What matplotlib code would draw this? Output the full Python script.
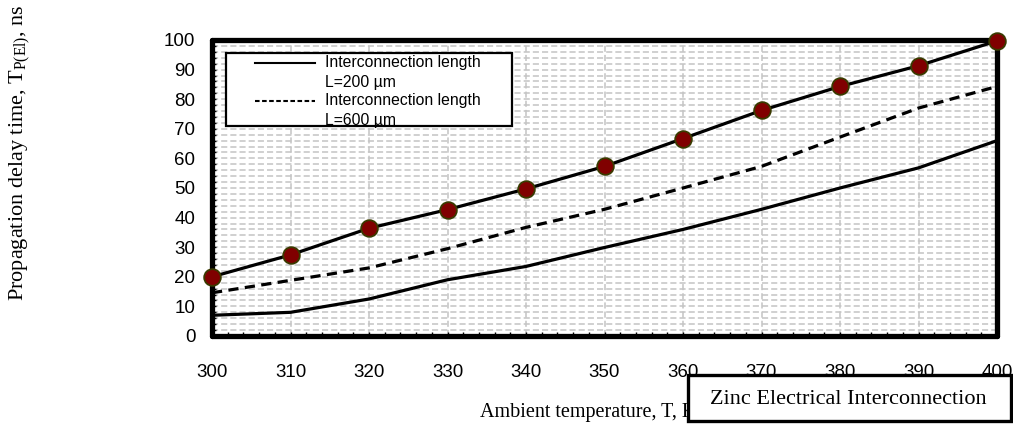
import matplotlib
matplotlib.use("Agg")
import matplotlib.pyplot as plt
from matplotlib.patches import Rectangle
from matplotlib.lines import Line2D
from matplotlib.ticker import MultipleLocator

# ---- data ----
temperature = [300, 310, 320, 330, 340, 350, 360, 370, 380, 390, 400]
delay_L200 = [7.0, 8.0, 12.5, 19.0, 23.5, 29.9, 36.0, 42.8, 50.0, 56.8, 66.0]
delay_L600 = [14.6, 18.8, 23.0, 29.5, 36.7, 42.8, 50.0, 57.3, 67.2, 77.0, 84.3]
delay_marked = [20.0, 27.4, 36.4, 42.7, 49.7, 57.3, 66.7, 76.2, 84.3, 91.3, 99.7]
x_ticks = [300, 310, 320, 330, 340, 350, 360, 370, 380, 390, 400]
y_ticks = [0, 10, 20, 30, 40, 50, 60, 70, 80, 90, 100]
legend_labels = [("Interconnection length", "L=200 µm"),
                 ("Interconnection length", "L=600 µm")]
box_title = "Zinc Electrical Interconnection"
x_title = "Ambient temperature, T, K"
y_title = r"Propagation delay time, T$_{\mathrm{P(El)}}$, ns"

plt.rcParams['mathtext.fontset'] = 'custom'
plt.rcParams['mathtext.rm'] = 'Liberation Serif'
plt.rcParams['mathtext.it'] = 'Liberation Serif:italic'

W, H = 1013, 429
fig = plt.figure(figsize=(W / 100, H / 100), dpi=100)

def fx(px):
    return px / W

def fy(py):
    return 1 - py / H

left, right, top, bottom = 212, 997, 40, 336
ax = fig.add_axes([fx(left), fy(bottom), fx(right) - fx(left), fy(top) - fy(bottom)])

ax.set_xlim(300, 400)
ax.set_ylim(0, 100)
ax.set_xticks(x_ticks)
ax.set_yticks(y_ticks)
ax.xaxis.set_minor_locator(MultipleLocator(2))
ax.yaxis.set_minor_locator(MultipleLocator(2))

grid_col = '#c4c4c4'
ax.grid(True, which='major', axis='both', color=grid_col, linestyle=(0, (4, 2)), linewidth=1.1, zorder=0)
ax.grid(True, which='minor', axis='y', color=grid_col, linestyle=(0, (4, 2)), linewidth=1.1, zorder=0)
ax.set_axisbelow(True)

for s in ax.spines.values():
    s.set_linewidth(3.8)
    s.set_color('black')
    s.set_capstyle('round')

ax.tick_params(axis='both', which='both', direction='in', length=3, width=1, color='black')
ax.tick_params(axis='x', which='major', pad=20, labelsize=13.5)
ax.tick_params(axis='y', which='major', pad=12, labelsize=13.5)
for lab in ax.get_xticklabels() + ax.get_yticklabels():
    lab.set_fontfamily('Liberation Sans')

ax.plot(temperature, delay_L200, color='black', linewidth=2.3, solid_capstyle='butt', zorder=3)
ax.plot(temperature, delay_L600, color='black', linewidth=2.3, linestyle=(0, (3.2, 2.0)), zorder=3)
ax.plot(temperature, delay_marked, color='black', linewidth=2.3, marker='o', markersize=12,
        markerfacecolor='#800000', markeredgecolor='#3a3a00', markeredgewidth=1.3,
        clip_on=False, zorder=4)

# legend (manual)
fig.patches.append(Rectangle((fx(226), fy(125.7)), fx(512) - fx(226), fy(52.7) - fy(125.7),
                             transform=fig.transFigure, facecolor='white', edgecolor='black',
                             linewidth=1.6, zorder=5))
styles = ['-', (0, (2.2, 1.2))]
handle_y = [62.5, 100.5]
for (l1, l2), st, hy in zip(legend_labels, styles, handle_y):
    fig.lines.append(Line2D([fx(255), fx(315)], [fy(hy), fy(hy)], transform=fig.transFigure,
                            color='black', linewidth=1.5, linestyle=st, zorder=6))
    fig.text(fx(325), fy(hy), l1, fontsize=11.3, family='Liberation Sans', va='center', ha='left', zorder=6)
    fig.text(fx(325), fy(hy + 19.5), l2, fontsize=11.3, family='Liberation Sans', va='center', ha='left', zorder=6)

# axis titles
fig.text(fx(20), fy(153), y_title, rotation=90, fontsize=16, family='Liberation Serif',
         ha='center', va='center')
fig.text(fx(588), fy(413), x_title, fontsize=14.5, family='Liberation Serif',
         ha='center', va='center', zorder=1)

# title box
fig.patches.append(Rectangle((fx(688), fy(421)), fx(1011) - fx(688), fy(375) - fy(421),
                             transform=fig.transFigure, facecolor='white', edgecolor='black',
                             linewidth=2.4, zorder=5))
fig.text(fx(848), fy(399), box_title, fontsize=16, family='Liberation Serif',
         ha='center', va='center', zorder=6)

fig.savefig('out.png', dpi=100)
